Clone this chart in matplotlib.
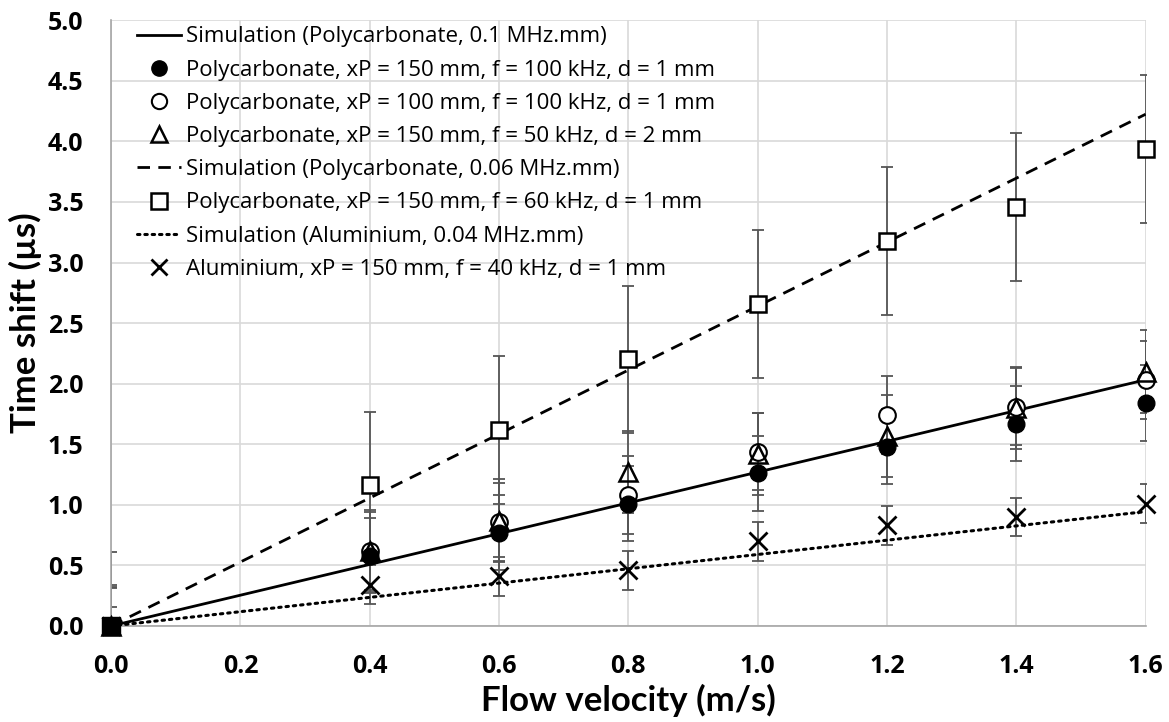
import numpy as np
import matplotlib
matplotlib.use("Agg")
import matplotlib.pyplot as plt
from matplotlib.lines import Line2D

# Flow velocities (m/s)
velocity = [0.0, 0.4, 0.6, 0.8, 1.0, 1.2, 1.4, 1.6]

# Measured time shifts (µs)
pc150_100k = [0.0, 0.58, 0.77, 1.01, 1.26, 1.48, 1.67, 1.84]
pc100_100k = [0.0, 0.62, 0.86, 1.08, 1.44, 1.74, 1.81, 2.03]
pc150_50k = [0.0, 0.62, 0.87, 1.27, 1.42, 1.57, 1.80, 2.10]
pc150_60k = [0.0, 1.16, 1.62, 2.20, 2.66, 3.18, 3.46, 3.94]
al150_40k = [0.0, 0.34, 0.41, 0.46, 0.70, 0.83, 0.90, 1.01]

# Error bar half-widths (µs)
err_pc150_100k = 0.31
err_pc100_100k = 0.32
err_pc150_50k = 0.34
err_pc150_60k = 0.61
err_al150_40k = 0.16

# Simulated slopes (µs per m/s)
sim_velocity = [0.0, 1.6]
slope_pc_01 = 1.27
slope_pc_006 = 2.64
slope_al_004 = 0.59

labels = [
    "Simulation (Polycarbonate, 0.1 MHz.mm)",
    "Polycarbonate, xP = 150 mm, f = 100 kHz, d = 1 mm",
    "Polycarbonate, xP = 100 mm, f = 100 kHz, d = 1 mm",
    "Polycarbonate, xP = 150 mm, f = 50 kHz, d = 2 mm",
    "Simulation (Polycarbonate, 0.06 MHz.mm)",
    "Polycarbonate, xP = 150 mm, f = 60 kHz, d = 1 mm",
    "Simulation (Aluminium, 0.04 MHz.mm)",
    "Aluminium, xP = 150 mm, f = 40 kHz, d = 1 mm",
]

plt.rcParams["font.family"] = ["Open Sans", "DejaVu Sans"]

fig = plt.figure(figsize=(11.69, 7.22), dpi=100)
ax = fig.add_axes([0.095, 0.133, 0.885, 0.839])

x = np.array(velocity)
ebkw = dict(ecolor="#555555", elinewidth=1.3, capsize=4, capthick=1.3, zorder=2)

for ys, err in [(pc150_60k, err_pc150_60k), (pc150_100k, err_pc150_100k),
                (pc100_100k, err_pc100_100k), (pc150_50k, err_pc150_50k),
                (al150_40k, err_al150_40k)]:
    ax.errorbar(x, ys, yerr=err, fmt="none", **ebkw)

sv = np.array(sim_velocity)
l1, = ax.plot(sv, slope_pc_01 * sv, color="black", lw=2, zorder=3)
l2, = ax.plot(sv, slope_pc_006 * sv, color="black", lw=2, ls=(0, (4.5, 3)), zorder=3)
l3, = ax.plot(sv, slope_al_004 * sv, color="black", lw=2.2, ls=(0, (0.8, 1.6)),
              dash_capstyle="round", zorder=3)

mk = dict(ls="none", clip_on=False)
m1, = ax.plot(x, pc150_100k, marker="o", ms=12, mfc="black", mec="black", zorder=5, **mk)
m2, = ax.plot(x, pc100_100k, marker="o", ms=12, mfc="white", mec="black", mew=1.5, zorder=4, **mk)
m3, = ax.plot(x, pc150_50k, marker="^", ms=13, mfc="none", mec="black", mew=1.8, zorder=4, **mk)
m4, = ax.plot(x, pc150_60k, marker="s", ms=12, mfc="white", mec="black", mew=1.8, zorder=4, **mk)
m5, = ax.plot(x, al150_40k, marker="x", ms=13, mec="black", mew=2, zorder=4, **mk)
# common origin point
ax.plot([velocity[0]], [pc150_60k[0]], marker="s", ms=13, mfc="black", mec="black", zorder=6, **mk)

ax.set_xlim(0, 1.6)
ax.set_ylim(0, 5.0)
ax.set_xticks(np.arange(0, 1.61, 0.2))
ax.set_yticks(np.arange(0, 5.01, 0.5))
ax.xaxis.set_major_formatter(matplotlib.ticker.FormatStrFormatter("%.1f"))
ax.yaxis.set_major_formatter(matplotlib.ticker.FormatStrFormatter("%.1f"))
ax.grid(True, color="#d9d9d9", lw=1.2, zorder=0)
ax.set_axisbelow(True)
for s in ["top", "right"]:
    ax.spines[s].set_visible(False)
for s in ["left", "bottom"]:
    ax.spines[s].set_color("#a6a6a6")
    ax.spines[s].set_linewidth(1.2)
ax.tick_params(axis="x", length=0, pad=20)
ax.tick_params(axis="y", length=0, pad=20)
for lab in ax.get_xticklabels() + ax.get_yticklabels():
    lab.set_fontsize(18)
    lab.set_fontweight("bold")

ax.set_xlabel("Flow velocity (m/s)", fontsize=25, fontweight="bold", labelpad=4,
              family=["Lato", "DejaVu Sans"])
ax.set_ylabel("Time shift (µs)", fontsize=25, fontweight="bold", labelpad=4,
              family=["Lato", "DejaVu Sans"])

handles = [l1, m1, m2, m3, l2, m4, l3, m5]
leg = ax.legend(handles, labels, loc="upper left", bbox_to_anchor=(0.012, 1.012),
                frameon=False, fontsize=16, handlelength=2.0, handletextpad=0.2,
                labelspacing=0.55, borderaxespad=0.2)
for h in leg.legend_handles:
    if isinstance(h, Line2D):
        h.set_markersize(11)

fig.savefig("out.png", dpi=100)
